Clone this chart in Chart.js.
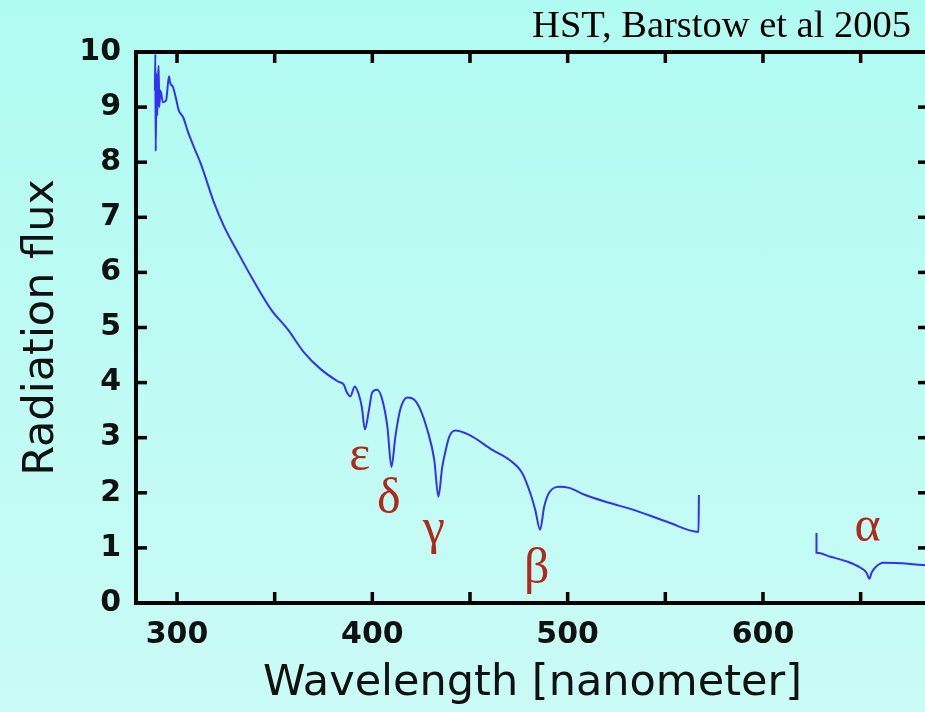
<!DOCTYPE html>
<html><head><meta charset="utf-8">
<script src="https://cdn.jsdelivr.net/npm/chart.js@4.4.1/dist/chart.umd.min.js"></script>
<style>
html,body{margin:0;padding:0;overflow:hidden;width:925px;height:712px;}
body{background:linear-gradient(#b0fbf1,#cafbf6);}
canvas{display:block;}
</style></head><body>
<canvas id="c" width="940" height="712"></canvas>
<script>
// Wavelength in nanometers, radiation flux (arbitrary units); null marks the gap in the spectrum
const wavelengths = [288.7,288.9,289.1,289.5,289.9,290.3,290.6,290.9,291.5,292.8,294.4,295.9,296.4,298.0,299.5,301.0,303.1,305.6,308.7,312.3,318.9,324.0,331.2,337.9,348.1,356.8,365.0,373.7,382.4,385.4,387.0,388.7,391.0,393.1,394.6,396.2,398.3,399.9,402.5,405.1,407.7,409.8,411.8,414.3,417.9,421.5,424.6,428.1,431.7,433.8,435.8,438.0,439.4,442.5,449.6,461.4,470.1,476.7,480.8,483.4,485.9,488.0,490.5,495.7,500.8,509.0,521.2,533.8,551.2,567.0,567.2,597.0,627.4,627.4,634.5,643.2,649.9,653.0,654.5,655.6,657.6,661.7,675.5,685.0];
const flux = [9.3,9.96,8.2,9.6,8.85,9.55,9.75,9.0,9.3,9.09,9.12,9.56,9.45,9.36,9.15,8.93,8.82,8.55,8.27,7.96,7.27,6.84,6.36,5.93,5.33,4.96,4.55,4.24,4.02,3.96,3.82,3.75,3.93,3.78,3.56,3.15,3.51,3.82,3.87,3.69,3.2,2.47,3.02,3.51,3.73,3.69,3.51,3.15,2.6,1.93,2.47,2.84,3.02,3.13,3.05,2.78,2.6,2.36,2.0,1.69,1.33,1.75,2.0,2.11,2.09,1.96,1.82,1.69,1.47,1.29,1.96,null,1.27,0.91,0.84,0.75,0.64,0.55,0.44,0.55,0.65,0.73,0.71,0.68];
const xTickValues = [300,350,400,450,500,550,600,650];
const xLabelValues = [300,400,500,600];
const yTickValues = [0,1,2,3,4,5,6,7,8,9,10];
const lineLabels = ['ε','δ','γ','β','α'];
const labelWavelength = [393.6,408.4,431.5,484.1,653.5];
const labelFlux = [2.65,1.87,1.33,0.6,1.36];
const chartTitle = 'HST, Barstow et al 2005';
const xAxisTitle = 'Wavelength [nanometer]';
const yAxisTitle = 'Radiation flux';

const points = wavelengths.map((w, i) => ({x: w, y: flux[i]}));

const framePlugin = {
  id: 'frame',
  afterDraw(chart) {
    const ctx = chart.ctx;
    const x = chart.scales.x, y = chart.scales.y;
    const L = x.getPixelForValue(x.min), R = x.getPixelForValue(x.max);
    const T = y.getPixelForValue(y.max), B = y.getPixelForValue(y.min);
    const w = 4, tw = 3.5, tl = 11;
    ctx.save();
    ctx.fillStyle = '#000';
    xTickValues.forEach(v => {
      const px = x.getPixelForValue(v);
      ctx.fillRect(px - tw / 2, B - tl, tw, tl);
      ctx.fillRect(px - tw / 2, T, tw, tl);
    });
    yTickValues.forEach(v => {
      const py = y.getPixelForValue(v);
      ctx.fillRect(L, py - tw / 2, tl, tw);
      ctx.fillRect(R - tl, py - tw / 2, tl, tw);
    });
    ctx.fillRect(L - w / 2, T - w / 2, R - L + w, w);
    ctx.fillRect(L - w / 2, B - w / 2, R - L + w, w);
    ctx.fillRect(L - w / 2, T - w / 2, w, B - T + w);
    ctx.fillRect(R - w / 2, T - w / 2, w, B - T + w);
    ctx.fillStyle = '#b02a1c';
    ctx.font = '50px "Liberation Serif"';
    ctx.textAlign = 'center';
    ctx.textBaseline = 'middle';
    lineLabels.forEach((t, i) => ctx.fillText(t, x.getPixelForValue(labelWavelength[i]), y.getPixelForValue(labelFlux[i])));
    ctx.fillStyle = '#000';
    ctx.font = '38.5px "Liberation Serif"';
    ctx.textAlign = 'right';
    ctx.textBaseline = 'alphabetic';
    ctx.fillText(chartTitle, 911, 37);
    ctx.restore();
  }
};

new Chart(document.getElementById('c'), {
  type: 'line',
  data: {
    datasets: [{
      data: points,
      borderColor: 'rgb(50,50,242)',
      borderWidth: 2,
      pointRadius: 0,
      cubicInterpolationMode: 'monotone',
      spanGaps: false,
      fill: false
    }]
  },
  options: {
    responsive: false,
    animation: false,
    layout: {padding: {left: 0, top: 52, right: 11, bottom: 0}},
    plugins: {legend: {display: false}, tooltip: {enabled: false}},
    scales: {
      x: {
        type: 'linear', min: 279, max: 685,
        afterFit: s => { s.height = 109; },
        afterBuildTicks: s => { s.ticks = xLabelValues.map(v => ({value: v})); },
        grid: {display: false, drawTicks: false},
        border: {display: false},
        ticks: {color: '#111', font: {family: 'DejaVu Sans', weight: 'bold', size: 30}, padding: 14, maxRotation: 0, autoSkip: false},
        title: {display: true, text: xAxisTitle, color: '#111', font: {family: 'DejaVu Sans', size: 43}, padding: {top: 0, bottom: 2}}
      },
      y: {
        type: 'linear', min: 0, max: 10,
        afterFit: s => { s.width = 136; },
        afterBuildTicks: s => { s.ticks = yTickValues.map(v => ({value: v})); },
        grid: {display: false, drawTicks: false},
        border: {display: false},
        ticks: {color: '#111', font: {family: 'DejaVu Sans', weight: 'bold', size: 30}, padding: 15},
        title: {display: true, text: yAxisTitle, color: '#111', font: {family: 'DejaVu Sans', size: 43}, padding: {top: 16, bottom: 0}}
      }
    }
  },
  plugins: [framePlugin]
});
</script>
</body></html>
